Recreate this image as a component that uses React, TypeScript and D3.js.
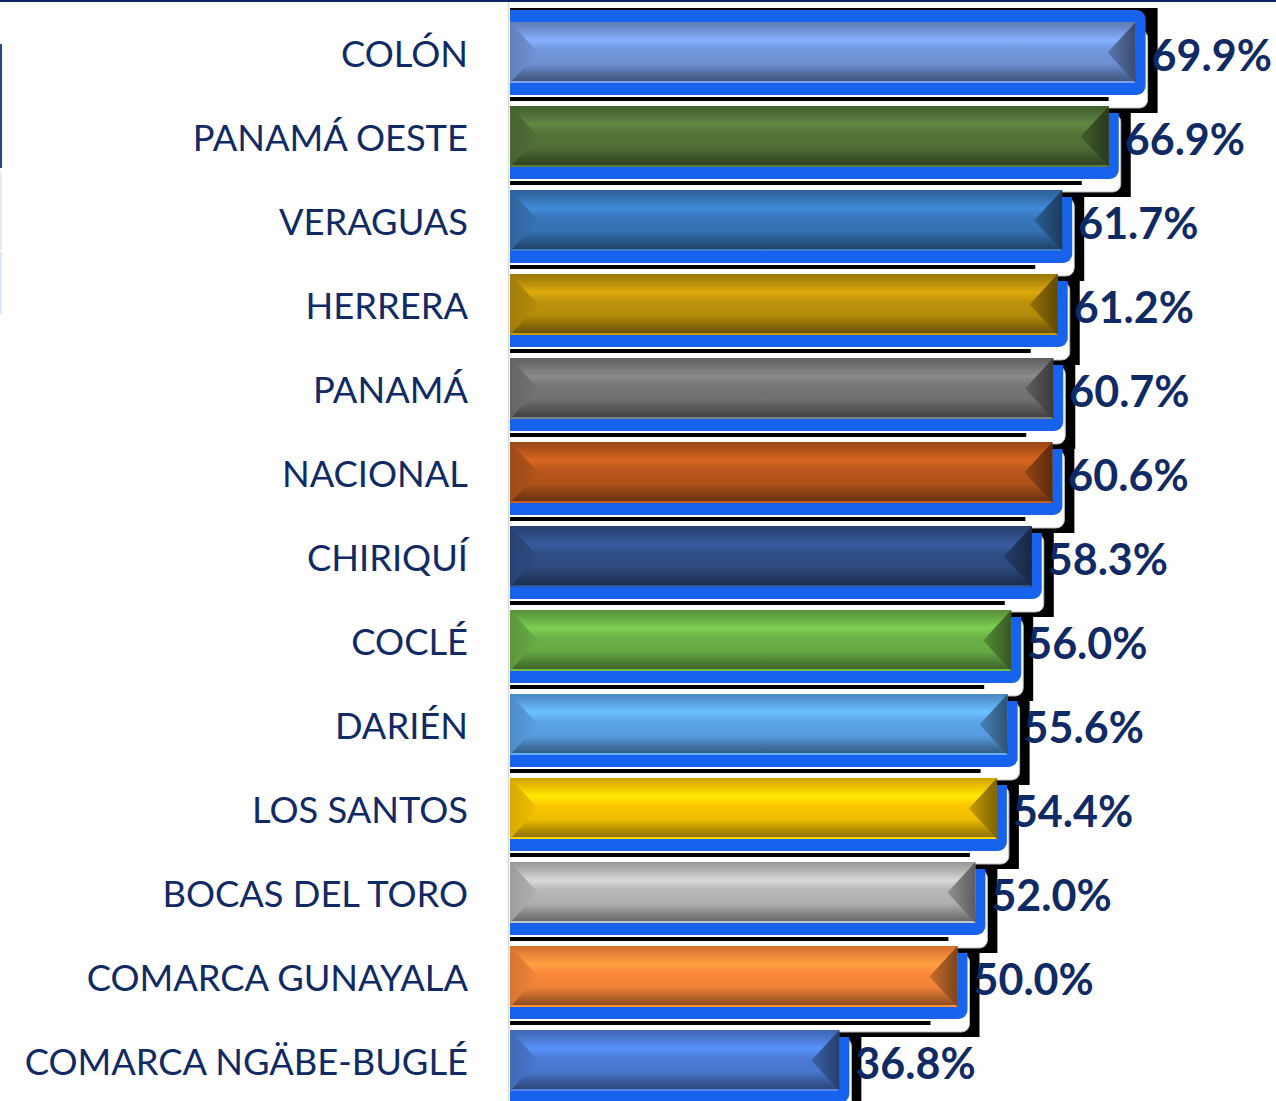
import React from "react";
import * as d3 from "d3";

const categories = [
  "COLÓN",
  "PANAMÁ OESTE",
  "VERAGUAS",
  "HERRERA",
  "PANAMÁ",
  "NACIONAL",
  "CHIRIQUÍ",
  "COCLÉ",
  "DARIÉN",
  "LOS SANTOS",
  "BOCAS DEL TORO",
  "COMARCA GUNAYALA",
  "COMARCA NGÄBE-BUGLÉ",
];
const values = [69.9, 66.9, 61.7, 61.2, 60.7, 60.6, 58.3, 56.0, 55.6, 54.4, 52.0, 50.0, 36.8];
const barColors = [
  "#6d8fd2",
  "#4f6e36",
  "#3570b0",
  "#b38a0a",
  "#707070",
  "#b0521a",
  "#2d4a80",
  "#66a843",
  "#579cde",
  "#eebd00",
  "#afafaf",
  "#ee8236",
  "#4876cc",
];

const W = 1276;
const H = 1101;
const X0 = 510;

export default function App() {
  const x = d3.scaleLinear().domain([0, 100]).range([X0, X0 + 895]);
  const y = d3
    .scaleBand<string>()
    .domain(categories)
    .range([10.5, 10.5 + 84 * 13])
    .paddingInner(0.274)
    .paddingOuter(0.137);
  const bw = y.bandwidth();
  const textColor = "#0f2a64";

  const order = d3.range(categories.length).reverse();

  return (
    <div style={{ position: "absolute", left: 0, top: 0 }}>
      <svg width={W} height={H} style={{ display: "block" }}>
        <defs>
          <clipPath id="plotClip">
            <rect x={X0} y={0} width={W - X0} height={H} />
          </clipPath>
          {barColors.map((c, i) => {
            const base = d3.color(c)!;
            return (
              <React.Fragment key={i}>
                <linearGradient id={`g${i}`} x1="0" y1="0" x2="0" y2="1">
                  <stop offset="0" stopColor={base.darker(0.4).formatHex()} />
                  <stop offset="0.1" stopColor={base.darker(0.1).formatHex()} />
                  <stop offset="0.3" stopColor={base.brighter(0.6).formatHex()} />
                  <stop offset="0.45" stopColor={base.brighter(0.15).formatHex()} />
                  <stop offset="0.68" stopColor={base.formatHex()} />
                  <stop offset="0.85" stopColor={base.darker(0.8).formatHex()} />
                  <stop offset="0.96" stopColor={base.darker(1.4).formatHex()} />
                  <stop offset="0.97" stopColor={base.brighter(0.35).formatHex()} />
                  <stop offset="1" stopColor={base.brighter(0.35).formatHex()} />
                </linearGradient>
                <linearGradient id={`r${i}`} x1="0" y1="0" x2="1" y2="0">
                  <stop offset="0" stopColor={base.darker(0.5).formatHex()} />
                  <stop offset="1" stopColor={base.darker(1.8).formatHex()} />
                </linearGradient>
                <linearGradient id={`l${i}`} x1="0" y1="0" x2="1" y2="0">
                  <stop offset="0" stopColor={base.darker(0.3).formatHex()} />
                  <stop offset="1" stopColor={base.brighter(0.05).formatHex()} />
                </linearGradient>
              </React.Fragment>
            );
          })}
        </defs>

        {/* top frame line */}
        <rect x={0} y={0} width={W} height={2} fill="#0b2460" />
        {/* left remnants */}
        <rect x={0} y={44} width={2} height={124} fill="#284a82" />
        <rect x={0} y={172} width={1.5} height={78} fill="#e6e6e6" />
        <rect x={0} y={252} width={1.5} height={62} fill="#d3e2f5" />

        {/* axis line */}
        <line x1={X0 - 1.5} x2={X0 - 1.5} y1={2} y2={H} stroke="#d9d9d9" strokeWidth={1.5} />

        <g clipPath="url(#plotClip)">
          {order.map((i) => {
            const c = categories[i];
            const T = y(c)!;
            const B = T + bw;
            const R = x(values[i]);
            return (
              <g key={`s${i}`}>
                <rect x={X0} y={T - 14} width={R + 22 - X0} height={B + 30 - (T - 14)} fill="#000" />
                <rect
                  x={X0 - 10}
                  y={T + 8}
                  width={R + 12 - (X0 - 10)}
                  height={B + 25 - (T + 8)}
                  rx={8}
                  fill="#ffffff"
                  stroke="#bdbdbd"
                  strokeWidth={1}
                />
                <rect x={X0} y={B + 14} width={Math.max(0, R - 27 - X0)} height={4} fill="#000" />
                <rect
                  x={X0 - 10}
                  y={T - 12}
                  width={R + 10 - (X0 - 10)}
                  height={B + 12 - (T - 12)}
                  rx={9}
                  fill="#1763ee"
                />
              </g>
            );
          })}
          {categories.map((c, i) => {
            const T = y(c)!;
            const B = T + bw;
            const R = x(values[i]);
            const d = Math.min(28, bw / 2);
            const mid = T + bw / 2;
            return (
              <g key={`b${i}`}>
                <rect x={X0} y={T} width={R - X0} height={bw} fill={`url(#g${i})`} />
                <path
                  d={`M${X0},${T}L${X0 + d},${mid}L${X0},${B}Z`}
                  fill={`url(#l${i})`}
                />
                <path d={`M${R},${T}L${R - d},${mid}L${R},${B}Z`} fill={`url(#r${i})`} />
              </g>
            );
          })}
        </g>

        {categories.map((c, i) => {
          const T = y(c)!;
          return (
            <text
              key={`t${i}`}
              x={468}
              y={T + bw / 2}
              textAnchor="end"
              dominantBaseline="central"
              fontFamily="Lato, 'Noto Sans', sans-serif"
              fontSize={36.3}
              fill={textColor}
            >
              {c}
            </text>
          );
        })}
        {categories.map((c, i) => {
          const T = y(c)!;
          const R = x(values[i]);
          return (
            <text
              key={`v${i}`}
              x={R + 16}
              y={T + bw / 2 + 2}
              dominantBaseline="central"
              fontFamily="Lato, 'Noto Sans', sans-serif"
              fontWeight={700}
              fontSize={43}
              fill={textColor}
            >
              {d3.format(".1f")(values[i])}%
            </text>
          );
        })}
      </svg>
    </div>
  );
}
